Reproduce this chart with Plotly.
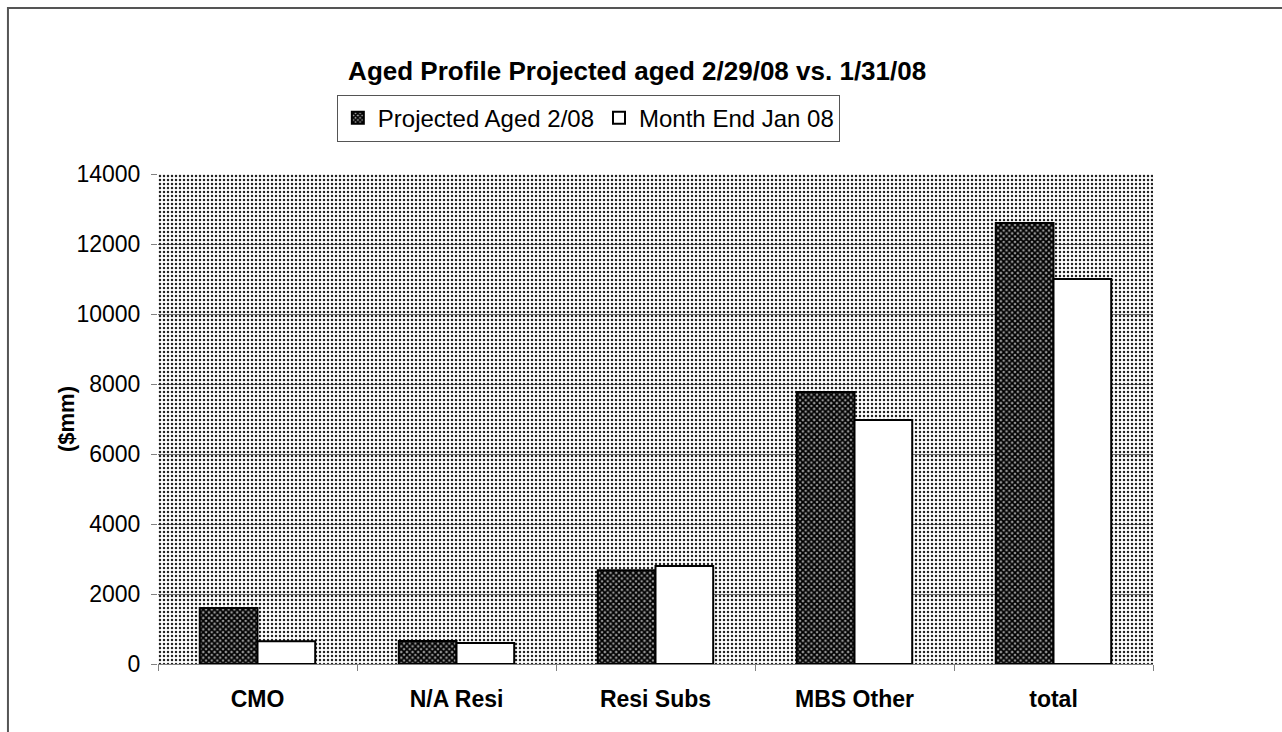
import plotly.graph_objects as go

categories = ["CMO", "N/A Resi", "Resi Subs", "MBS Other", "total"]
projected_feb = [1600, 660, 2680, 7770, 12600]
month_end_jan = [650, 600, 2800, 6970, 11000]
y_ticks = [0, 2000, 4000, 6000, 8000, 10000, 12000, 14000]

FONT = "Liberation Sans, Arial, sans-serif"

fig = go.Figure()

# dotted backdrop filling the whole plotting area (base subplot, hidden axis)
fig.add_trace(go.Bar(
    x=[0.5], y=[14000], width=[1], xaxis="x", yaxis="y",
    marker=dict(color="rgba(0,0,0,0)", line=dict(width=0),
                pattern=dict(shape=".", size=4, solidity=0.3,
                             fgcolor="#222222", bgcolor="rgba(255,255,255,0)",
                             fillmode="replace")),
    showlegend=False, hoverinfo="skip",
))

fig.add_trace(go.Bar(
    name="Projected Aged 2/08", x=categories, y=projected_feb,
    xaxis="x2", yaxis="y",
    marker=dict(color="#000000", line=dict(color="#000000", width=2),
                pattern=dict(shape="x", size=4, solidity=0.7,
                             fgcolor="#000000", bgcolor="#9a9a9a",
                             fillmode="replace")),
))
fig.add_trace(go.Bar(
    name="Month End Jan 08", x=categories, y=month_end_jan,
    xaxis="x2", yaxis="y",
    marker=dict(color="#ffffff", line=dict(color="#000000", width=2)),
))

# outer chart frame
fig.add_shape(type="rect", xref="paper", yref="paper",
              x0=-0.1508, x1=1.5, y0=-0.5, y1=1.3388,
              line=dict(color="#555555", width=2), layer="below")

fig.add_annotation(text="<b>($mm)</b>", xref="paper", yref="paper",
                   x=-0.107, y=0.5, textangle=-90, showarrow=False,
                   font=dict(size=22, color="#000000", family=FONT))

fig.update_layout(
    width=1282, height=732,
    margin=dict(l=158, r=129, t=174, b=68),
    paper_bgcolor="#ffffff", plot_bgcolor="#ffffff",
    barmode="group", bargap=0.42, bargroupgap=0,
    font=dict(family=FONT, color="#000000"),
    title=dict(text="<b>Aged Profile Projected aged 2/29/08 vs. 1/31/08</b>",
               x=0.497, xref="container", y=1 - 71 / 732, yref="container",
               yanchor="middle", xanchor="center",
               font=dict(size=26, color="#000000", family=FONT)),
    legend=dict(orientation="h", x=0.4325, xanchor="center",
                y=1.114, yanchor="middle",
                bordercolor="#555555", borderwidth=1, bgcolor="#ffffff",
                font=dict(size=24, color="#000000", family=FONT),
                itemwidth=30, traceorder="normal"),
    xaxis=dict(range=[0, 1], visible=False, showgrid=False, zeroline=False,
               fixedrange=True),
    xaxis2=dict(overlaying="x", anchor="y", side="bottom", type="category",
                showgrid=False, showline=True, linecolor="#808080", linewidth=1,
                ticks="outside", tickson="boundaries", ticklen=6,
                tickcolor="#808080", ticklabelstandoff=14,
                tickfont=dict(size=23, family=FONT, color="#000000", weight="bold")),
    yaxis=dict(range=[0, 14000], tickvals=y_ticks, tickformat="d", showgrid=True,
               gridcolor="#7a7a7a", gridwidth=1, zeroline=False,
               showline=False, ticks="outside", ticklen=6,
               tickcolor="#808080", ticklabelstandoff=6,
               tickfont=dict(size=23, family=FONT, color="#000000")),
)

fig.write_html("out.html")
